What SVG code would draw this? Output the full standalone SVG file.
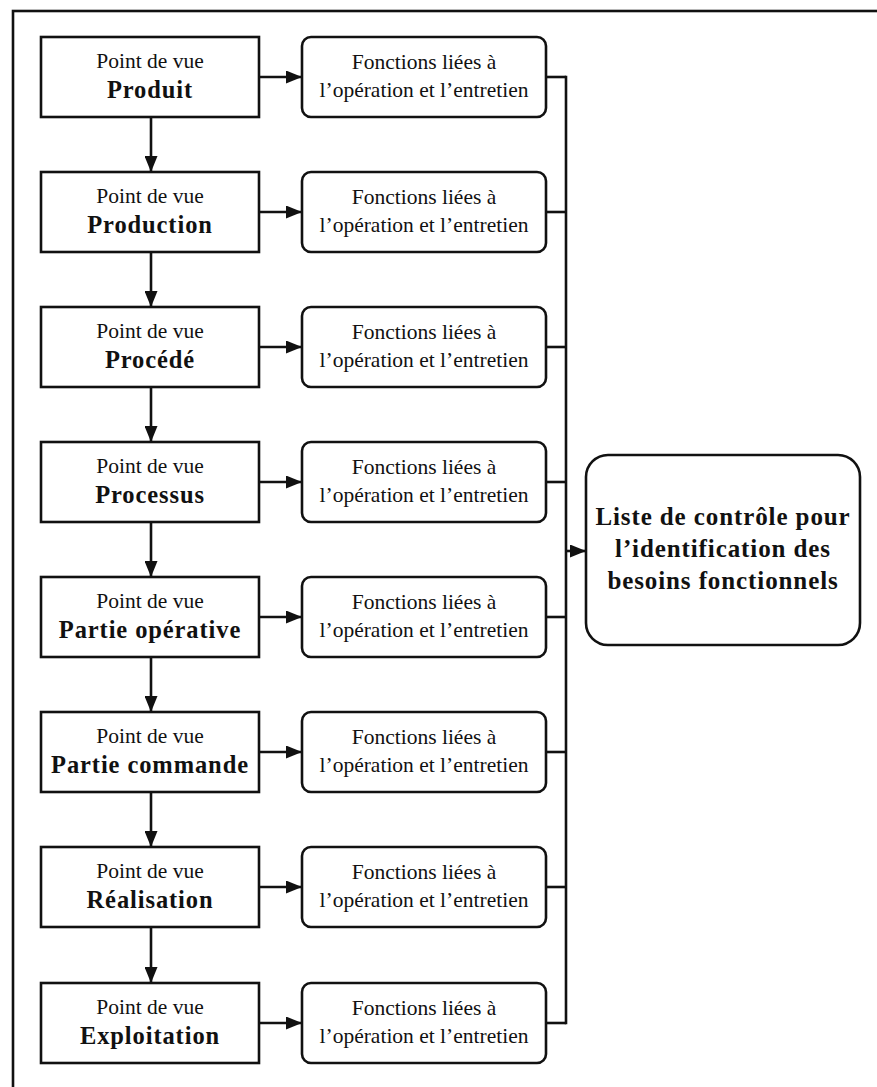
<svg xmlns="http://www.w3.org/2000/svg" width="877" height="1087" viewBox="0 0 877 1087">
  <style>
    .box { fill: #fff; stroke: #111; stroke-width: 2.6; }
    .wire { fill: none; stroke: #111; stroke-width: 2.6; }
    .t { font-family: "Liberation Serif", "Times New Roman", serif; fill: #111; text-anchor: middle; }
    .reg { font-size: 21.5px; }
    .bold { font-size: 24.5px; font-weight: bold; letter-spacing: 0.9px; }
    .big { font-size: 25px; font-weight: bold; letter-spacing: 0.9px; }
  </style>
  <defs>
    <marker id="ah" viewBox="0 0 16 13" refX="16" refY="6.5" markerWidth="16" markerHeight="13" markerUnits="userSpaceOnUse" orient="auto">
      <path d="M0,0 L16,6.5 L0,13 z" fill="#111"/>
    </marker>
  </defs>

  <!-- outer frame -->
  <rect x="13" y="11" width="900" height="1100" fill="none" stroke="#111" stroke-width="2.6"/>

  <!-- connectors -->
  <g id="connectors">
    <!-- viewpoint chain -->
    <line class="wire" x1="151" y1="117" x2="151" y2="172" marker-end="url(#ah)"/>
    <line class="wire" x1="151" y1="252" x2="151" y2="307" marker-end="url(#ah)"/>
    <line class="wire" x1="151" y1="387" x2="151" y2="442" marker-end="url(#ah)"/>
    <line class="wire" x1="151" y1="522" x2="151" y2="577" marker-end="url(#ah)"/>
    <line class="wire" x1="151" y1="657" x2="151" y2="712" marker-end="url(#ah)"/>
    <line class="wire" x1="151" y1="792" x2="151" y2="847" marker-end="url(#ah)"/>
    <line class="wire" x1="151" y1="927" x2="151" y2="983" marker-end="url(#ah)"/>
    <!-- viewpoint to functions -->
    <line class="wire" x1="259" y1="77" x2="302" y2="77" marker-end="url(#ah)"/>
    <line class="wire" x1="259" y1="212" x2="302" y2="212" marker-end="url(#ah)"/>
    <line class="wire" x1="259" y1="347" x2="302" y2="347" marker-end="url(#ah)"/>
    <line class="wire" x1="259" y1="482" x2="302" y2="482" marker-end="url(#ah)"/>
    <line class="wire" x1="259" y1="617" x2="302" y2="617" marker-end="url(#ah)"/>
    <line class="wire" x1="259" y1="752" x2="302" y2="752" marker-end="url(#ah)"/>
    <line class="wire" x1="259" y1="887" x2="302" y2="887" marker-end="url(#ah)"/>
    <line class="wire" x1="259" y1="1023" x2="302" y2="1023" marker-end="url(#ah)"/>
    <!-- functions to collecting bus -->
    <line class="wire" x1="546" y1="77" x2="566" y2="77"/>
    <line class="wire" x1="546" y1="212" x2="566" y2="212"/>
    <line class="wire" x1="546" y1="347" x2="566" y2="347"/>
    <line class="wire" x1="546" y1="482" x2="566" y2="482"/>
    <line class="wire" x1="546" y1="617" x2="566" y2="617"/>
    <line class="wire" x1="546" y1="752" x2="566" y2="752"/>
    <line class="wire" x1="546" y1="887" x2="566" y2="887"/>
    <line class="wire" x1="546" y1="1023" x2="566" y2="1023"/>
    <line class="wire" x1="566" y1="75.7" x2="566" y2="1024.3"/>
    <line class="wire" x1="566" y1="551" x2="586" y2="551" marker-end="url(#ah)"/>
  </g>

  <!-- viewpoints -->
  <g id="vp-produit">
    <rect class="box" x="41" y="37" width="218" height="80"/>
    <text class="t reg" x="150" y="68">Point de vue</text>
    <text class="t bold" x="150" y="98">Produit</text>
  </g>
  <g id="vp-production">
    <rect class="box" x="41" y="172" width="218" height="80"/>
    <text class="t reg" x="150" y="203">Point de vue</text>
    <text class="t bold" x="150" y="233">Production</text>
  </g>
  <g id="vp-procede">
    <rect class="box" x="41" y="307" width="218" height="80"/>
    <text class="t reg" x="150" y="338">Point de vue</text>
    <text class="t bold" x="150" y="368">Procédé</text>
  </g>
  <g id="vp-processus">
    <rect class="box" x="41" y="442" width="218" height="80"/>
    <text class="t reg" x="150" y="473">Point de vue</text>
    <text class="t bold" x="150" y="503">Processus</text>
  </g>
  <g id="vp-partie-operative">
    <rect class="box" x="41" y="577" width="218" height="80"/>
    <text class="t reg" x="150" y="608">Point de vue</text>
    <text class="t bold" x="150" y="638">Partie opérative</text>
  </g>
  <g id="vp-partie-commande">
    <rect class="box" x="41" y="712" width="218" height="80"/>
    <text class="t reg" x="150" y="743">Point de vue</text>
    <text class="t bold" x="150" y="773">Partie commande</text>
  </g>
  <g id="vp-realisation">
    <rect class="box" x="41" y="847" width="218" height="80"/>
    <text class="t reg" x="150" y="878">Point de vue</text>
    <text class="t bold" x="150" y="908">Réalisation</text>
  </g>
  <g id="vp-exploitation">
    <rect class="box" x="41" y="983" width="218" height="80"/>
    <text class="t reg" x="150" y="1014">Point de vue</text>
    <text class="t bold" x="150" y="1044">Exploitation</text>
  </g>

  <!-- operation and maintenance functions -->
  <g id="fn-1">
    <rect class="box" x="302" y="37" width="244" height="80" rx="9"/>
    <text class="t reg" x="424" y="69">Fonctions liées à</text>
    <text class="t reg" x="424" y="97">l’opération et l’entretien</text>
  </g>
  <g id="fn-2">
    <rect class="box" x="302" y="172" width="244" height="80" rx="9"/>
    <text class="t reg" x="424" y="204">Fonctions liées à</text>
    <text class="t reg" x="424" y="232">l’opération et l’entretien</text>
  </g>
  <g id="fn-3">
    <rect class="box" x="302" y="307" width="244" height="80" rx="9"/>
    <text class="t reg" x="424" y="339">Fonctions liées à</text>
    <text class="t reg" x="424" y="367">l’opération et l’entretien</text>
  </g>
  <g id="fn-4">
    <rect class="box" x="302" y="442" width="244" height="80" rx="9"/>
    <text class="t reg" x="424" y="474">Fonctions liées à</text>
    <text class="t reg" x="424" y="502">l’opération et l’entretien</text>
  </g>
  <g id="fn-5">
    <rect class="box" x="302" y="577" width="244" height="80" rx="9"/>
    <text class="t reg" x="424" y="609">Fonctions liées à</text>
    <text class="t reg" x="424" y="637">l’opération et l’entretien</text>
  </g>
  <g id="fn-6">
    <rect class="box" x="302" y="712" width="244" height="80" rx="9"/>
    <text class="t reg" x="424" y="744">Fonctions liées à</text>
    <text class="t reg" x="424" y="772">l’opération et l’entretien</text>
  </g>
  <g id="fn-7">
    <rect class="box" x="302" y="847" width="244" height="80" rx="9"/>
    <text class="t reg" x="424" y="879">Fonctions liées à</text>
    <text class="t reg" x="424" y="907">l’opération et l’entretien</text>
  </g>
  <g id="fn-8">
    <rect class="box" x="302" y="983" width="244" height="80" rx="9"/>
    <text class="t reg" x="424" y="1015">Fonctions liées à</text>
    <text class="t reg" x="424" y="1043">l’opération et l’entretien</text>
  </g>

  <!-- resulting checklist -->
  <g id="checklist">
    <rect class="box" x="586" y="455" width="274" height="190" rx="22"/>
    <text class="t big" x="723" y="525">Liste de contrôle pour</text>
    <text class="t big" x="723" y="557">l’identification des</text>
    <text class="t big" x="723" y="589">besoins fonctionnels</text>
  </g>
</svg>
